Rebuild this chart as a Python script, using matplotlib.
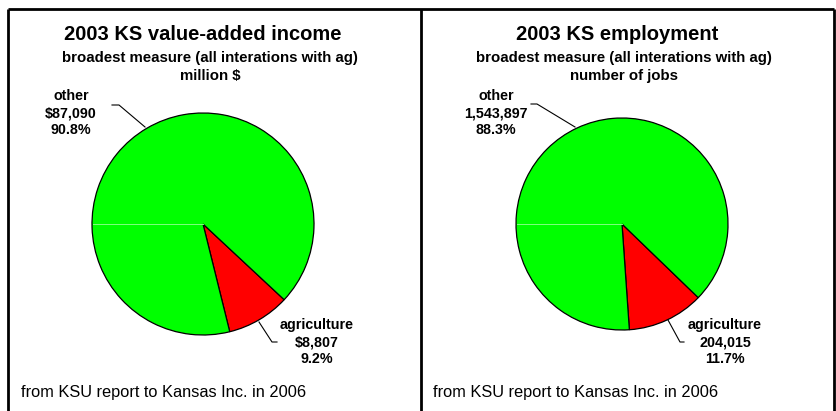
import numpy as np
import matplotlib
matplotlib.use("Agg")
import matplotlib.pyplot as plt

plt.rcParams['font.family'] = ['Liberation Sans', 'DejaVu Sans']

# data
slice_names = ["agriculture", "other"]
income_vals = [8807, 87090]          # million $
jobs_vals = [204015, 1543897]        # number of jobs
titles = ["2003 KS value-added income", "2003 KS employment"]
subtitles = ["broadest measure (all interations with ag)",
             "broadest measure (all interations with ag)"]
units = ["million $", "number of jobs"]
footer = "from KSU report to Kansas Inc. in 2006"

W, H = 837, 411
fig = plt.figure(figsize=(W / 100, H / 100), dpi=100)
ax = fig.add_axes([0, 0, 1, 1])


def Y(y):
    # pixel row -> data y (y up)
    return H - y


def draw_panel(vals, fmt, cx, cy, r, start, title, sub, unit, tx, sx,
               other_lbl, other_line, ag_lbl, ag_line):
    total = float(sum(vals))
    pcts = [v / total * 100 for v in vals]
    ax.pie(vals, colors=["#ff0000", "#00ff00"], startangle=start,
           counterclock=False, center=(cx, Y(cy)), radius=r, frame=True,
           wedgeprops=dict(edgecolor="black", linewidth=0.9))
    # faint seam line in the green slice
    ax.plot([cx - r + 1, cx], [Y(cy), Y(cy)], color="#80ff80", lw=0.7,
            zorder=3)
    ax.text(tx, Y(35), title, ha="center", va="center", fontsize=14.5,
            fontweight="bold")
    ax.text(sx, Y(58), sub, ha="center", va="center", fontsize=10.8,
            fontweight="bold")
    ax.text(sx, Y(76), unit, ha="center", va="center", fontsize=10.8,
            fontweight="bold")
    # other label
    ox, oy = other_lbl
    ax.text(ox, Y(oy), "%s\n%s\n%.1f%%" % (slice_names[1], fmt(vals[1]),
                                          pcts[1]),
            ha="center", va="center", fontsize=10.3, fontweight="bold",
            linespacing=1.3)
    xs, ys = zip(*other_line)
    ax.plot(xs, [Y(v) for v in ys], color="black", lw=0.8)
    # agriculture label
    gx, gy = ag_lbl
    ax.text(gx, Y(gy), "%s\n%s\n%.1f%%" % (slice_names[0], fmt(vals[0]),
                                          pcts[0]),
            ha="center", va="center", fontsize=10.3, fontweight="bold",
            linespacing=1.3)
    xs, ys = zip(*ag_line)
    ax.plot(xs, [Y(v) for v in ys], color="black", lw=0.8)


draw_panel(income_vals, lambda v: "${:,}".format(v), 203, 224, 111, -43,
           titles[0], subtitles[0], units[0], 203, 210,
           (71, 113), [(112, 105), (119, 105), (145, 127)],
           (317, 342), [(259, 322), (272, 342), (277, 342)])
draw_panel(jobs_vals, lambda v: "{:,}".format(v), 622, 224, 106, -44,
           titles[1], subtitles[1], units[1], 617, 624,
           (496, 113), [(531, 104), (537, 104), (575, 127)],
           (725, 342), [(668, 320), (680, 342), (684, 342)])

# footers
ax.text(21, Y(392), footer, ha="left", va="center", fontsize=11.8)
ax.text(433, Y(392), footer, ha="left", va="center", fontsize=11.8)

# panel borders
ax.plot([8, 834], [Y(9), Y(9)], color="black", lw=2, solid_capstyle="butt")
for bx in [8, 421, 834]:
    ax.plot([bx, bx], [Y(9), Y(H + 2)], color="black", lw=2,
            solid_capstyle="butt")

ax.set_xlim(0, W)
ax.set_ylim(0, H)
ax.set_aspect("auto")
ax.axis("off")

fig.savefig("out.png", dpi=100)
